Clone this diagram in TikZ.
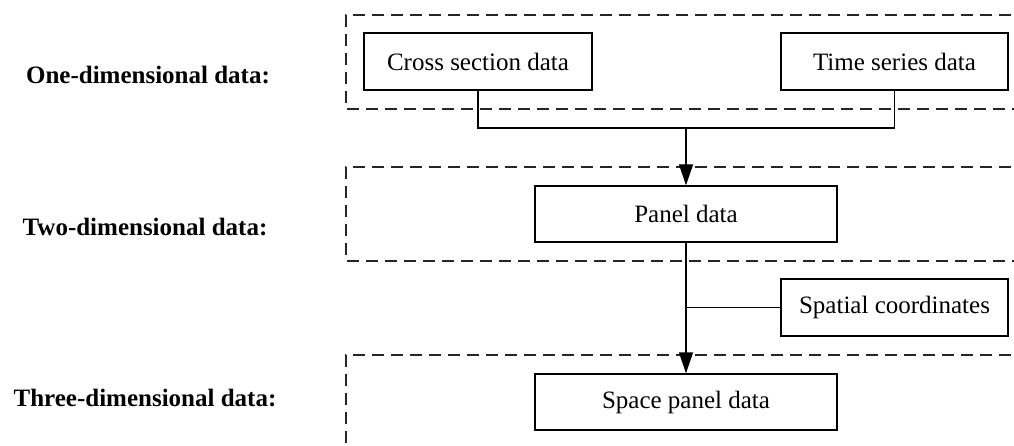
\documentclass[tikz,border=0pt]{standalone}
\usepackage{fontspec}
\setmainfont{Liberation Serif}
\usetikzlibrary{arrows.meta}
\begin{document}
\begin{tikzpicture}[x=1pt,y=-1pt,
  databox/.style={draw=black,line width=1.4pt,minimum width=#1,minimum height=57pt,inner sep=0pt,
    font=\fontsize{25}{30}\selectfont},
  lvl/.style={font=\fontsize{25}{30}\selectfont\bfseries,inner sep=0pt,anchor=center},
  grp/.style={draw=black!85,line width=1.8pt,dash pattern=on 12pt off 7pt},
  conn/.style={draw=black,line width=1.4pt},
  arr/.style={conn,-{Triangle[length=21pt,width=14pt]}}]
\useasboundingbox (0,0) rectangle (1014,446);
\begin{scope}
\clip (0,0) rectangle (1014,446);
% group frames
\draw[grp] (1030,15) -- (346,15) -- (346,109) -- (1030,109);
\draw[grp] (1030,167) -- (346,167) -- (346,261) -- (1030,261);
\draw[grp] (1030,355) -- (346,355) -- (346,460);
\end{scope}
% level labels
\node[lvl] (l1) at (148,75) {One-dimensional data:};
\node[lvl] (l2) at (145,227) {Two-dimensional data:};
\node[lvl] (l3) at (145,398) {Three-dimensional data:};
% boxes
\node[databox=228pt] (cs) at (478,61.5) {Cross section data};
\node[databox=227pt] (ts) at (894.5,61.5) {Time series data};
\node[databox=302pt,minimum height=56pt] (pd) at (686,214) {Panel data};
\node[databox=227pt] (sc) at (894.5,307.5) {Spatial coordinates};
\node[databox=302pt,minimum height=56pt] (sp) at (686,402) {Space panel data};
% connectors
\coordinate (j1) at (686,128);
\draw[conn] (cs.south) |- (j1) -| (ts.south);
\draw[arr] (j1) -- (pd.north);
\draw[arr] (pd.south) -- (sp.north);
\draw[conn] (sc.west) -- (sc.west -| pd.south);
\end{tikzpicture}
\end{document}
